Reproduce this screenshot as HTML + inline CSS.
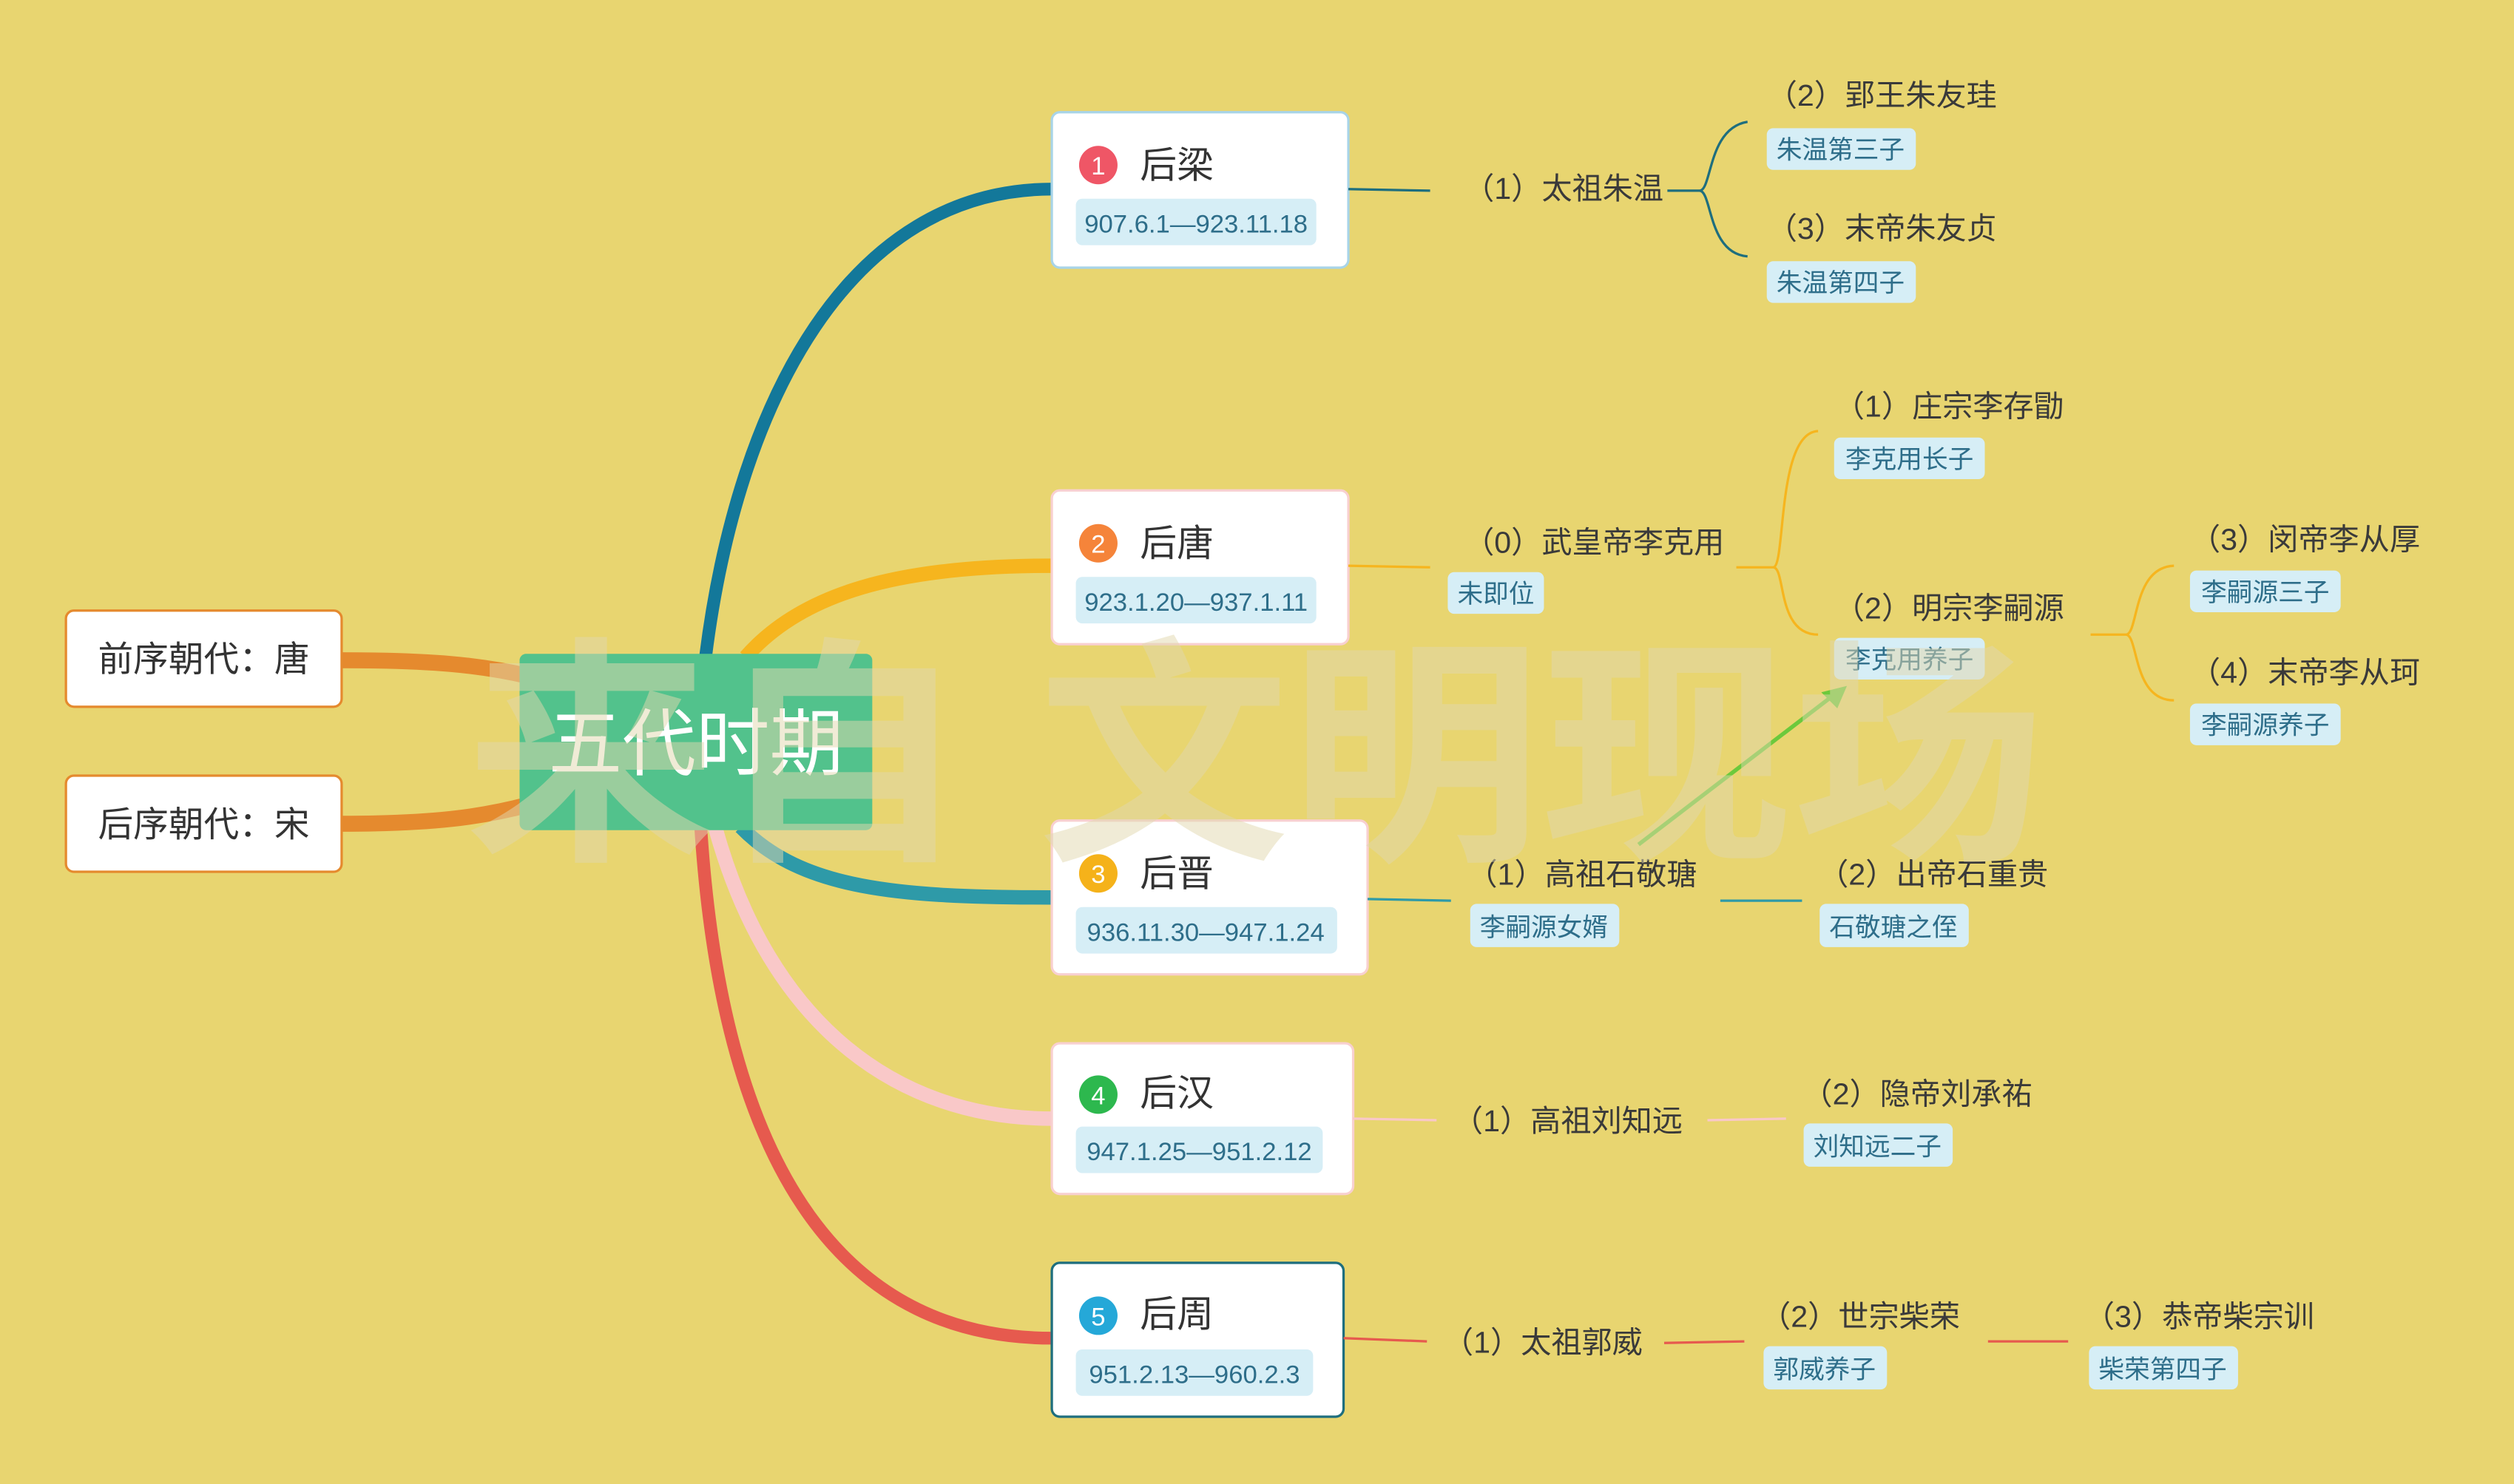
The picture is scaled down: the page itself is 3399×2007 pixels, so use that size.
<!DOCTYPE html>
<html><head><meta charset="utf-8"><style>
html,body{margin:0;padding:0;background:#E8D570;}
svg{display:block;}
text{font-family:"Liberation Sans","Noto Sans CJK SC",sans-serif;}
.t{font-size:19px;fill:#3a3a3a;}
.l{font-size:16px;fill:#2E6E8A;}
.d{font-size:16px;fill:#2E6E8A;}
.h{font-size:23px;fill:#333;}
.n{font-size:16px;fill:#fff;}
</style></head><body>
<svg width="3399" height="2007" viewBox="0 0 1568 926" xmlns="http://www.w3.org/2000/svg">
<rect width="1568" height="926" fill="#E8D570"/>

<path d="M213,412 C270,412 300,415 330,422" stroke="#E58A2E" stroke-width="10" fill="none"/>
<path d="M213,514 C270,514 300,510 330,502" stroke="#E58A2E" stroke-width="10" fill="none"/>
<path d="M440,410 C460,250 530,118 656,118" stroke="#13789A" stroke-width="8" fill="none"/>
<path d="M465,410 C500,370 560,353 656,353" stroke="#F6B51E" stroke-width="9" fill="none"/>
<path d="M462,516 C500,555 560,560 656,560" stroke="#2E9AA8" stroke-width="9" fill="none"/>
<path d="M446,516 C480,640 560,698 656,698" stroke="#F9C8C8" stroke-width="9" fill="none"/>
<path d="M437,516 C450,720 520,835 656,835" stroke="#E65A4E" stroke-width="8" fill="none"/>

<rect x="324" y="408" width="220" height="110" rx="4" fill="#52C28C"/>
<text x="434" y="480" text-anchor="middle" style="font-size:46px;fill:#fff">五代时期</text>

<rect x="41" y="381" width="172" height="60" rx="5" fill="#fff" stroke="#E58A2E" stroke-width="1.5"/>
<text x="127" y="419" text-anchor="middle" class="h" style="font-size:22px">前序朝代：唐</text>
<rect x="41" y="484" width="172" height="60" rx="5" fill="#fff" stroke="#E58A2E" stroke-width="1.5"/>
<text x="127" y="522" text-anchor="middle" class="h" style="font-size:22px">后序朝代：宋</text>

<rect x="656" y="70" width="185" height="97" rx="5" fill="#fff" stroke="#A8D4E8" stroke-width="1.5"/>
<circle cx="685" cy="103" r="12" fill="#EF5666"/><text x="685" y="109" text-anchor="middle" class="n">1</text>
<text x="711" y="111" class="h">后梁</text>
<rect x="671" y="124" width="150" height="29" rx="4" fill="#D6EEF6"/>
<text x="746" y="145" text-anchor="middle" class="d">907.6.1—923.11.18</text>
<rect x="656" y="306" width="185" height="96" rx="5" fill="#fff" stroke="#F8D0D0" stroke-width="1.5"/>
<circle cx="685" cy="339" r="12" fill="#F5843A"/><text x="685" y="345" text-anchor="middle" class="n">2</text>
<text x="711" y="347" class="h">后唐</text>
<rect x="671" y="360" width="150" height="29" rx="4" fill="#D6EEF6"/>
<text x="746" y="381" text-anchor="middle" class="d">923.1.20—937.1.11</text>
<rect x="656" y="512" width="197" height="96" rx="5" fill="#fff" stroke="#F8D0D0" stroke-width="1.5"/>
<circle cx="685" cy="545" r="12" fill="#F5B21A"/><text x="685" y="551" text-anchor="middle" class="n">3</text>
<text x="711" y="553" class="h">后晋</text>
<rect x="671" y="566" width="163" height="29" rx="4" fill="#D6EEF6"/>
<text x="752" y="587" text-anchor="middle" class="d">936.11.30—947.1.24</text>
<rect x="656" y="651" width="188" height="94" rx="5" fill="#fff" stroke="#F8D0D0" stroke-width="1.5"/>
<circle cx="685" cy="683" r="12" fill="#2DB84E"/><text x="685" y="689" text-anchor="middle" class="n">4</text>
<text x="711" y="690" class="h">后汉</text>
<rect x="671" y="703" width="154" height="29" rx="4" fill="#D6EEF6"/>
<text x="748" y="724" text-anchor="middle" class="d">947.1.25—951.2.12</text>
<rect x="656" y="788" width="182" height="96" rx="5" fill="#fff" stroke="#1E6E7E" stroke-width="1.5"/>
<circle cx="685" cy="821" r="12" fill="#25A8D8"/><text x="685" y="827" text-anchor="middle" class="n">5</text>
<text x="711" y="828" class="h">后周</text>
<rect x="671" y="842" width="148" height="29" rx="4" fill="#D6EEF6"/>
<text x="745" y="863" text-anchor="middle" class="d">951.2.13—960.2.3</text>

<path d="M841,118 L892,119" stroke="#1E6E7E" stroke-width="1.5" fill="none"/>
<text x="913" y="124" class="t">（1）太祖朱温</text>
<path d="M1040,119 L1060,119 C1068,119 1065,80 1090,76 M1060,119 C1068,119 1065,158 1090,160" stroke="#1E6E7E" stroke-width="1.5" fill="none"/>
<text x="1102" y="66" class="t">（2）郢王朱友珪</text>
<rect x="1102" y="80" width="93" height="26" rx="4" fill="#D6EEF6"/><text x="1148" y="99" text-anchor="middle" class="l">朱温第三子</text>
<text x="1102" y="149" class="t">（3）末帝朱友贞</text>
<rect x="1102" y="163" width="93" height="26" rx="4" fill="#D6EEF6"/><text x="1148" y="182" text-anchor="middle" class="l">朱温第四子</text>

<path d="M841,353 L892,354" stroke="#F6B51E" stroke-width="1.5" fill="none"/>
<text x="913" y="345" class="t">（0）武皇帝李克用</text>
<rect x="903" y="357" width="60" height="26" rx="4" fill="#D6EEF6"/><text x="933" y="376" text-anchor="middle" class="l">未即位</text>
<path d="M1083,354 L1106,354 C1114,354 1108,270 1134,269 M1106,354 C1114,354 1108,396 1134,396" stroke="#F6B51E" stroke-width="1.5" fill="none"/>
<text x="1144" y="260" class="t">（1）庄宗李存勖</text>
<rect x="1144" y="273" width="94" height="26" rx="4" fill="#D6EEF6"/><text x="1191" y="292" text-anchor="middle" class="l">李克用长子</text>
<text x="1144" y="386" class="t">（2）明宗李嗣源</text>
<rect x="1144" y="398" width="94" height="26" rx="4" fill="#D6EEF6"/><text x="1191" y="417" text-anchor="middle" class="l">李克用养子</text>
<path d="M1304,396 L1326,396 C1334,396 1330,354 1356,353 M1326,396 C1334,396 1330,437 1356,437" stroke="#F6B51E" stroke-width="1.5" fill="none"/>
<text x="1366" y="343" class="t">（3）闵帝李从厚</text>
<rect x="1366" y="356" width="94" height="26" rx="4" fill="#D6EEF6"/><text x="1413" y="375" text-anchor="middle" class="l">李嗣源三子</text>
<text x="1366" y="426" class="t">（4）末帝李从珂</text>
<rect x="1366" y="439" width="94" height="26" rx="4" fill="#D6EEF6"/><text x="1413" y="458" text-anchor="middle" class="l">李嗣源养子</text>

<path d="M853,561 L905,562" stroke="#2E9AA8" stroke-width="1.5" fill="none"/>
<text x="915" y="552" class="t">（1）高祖石敬瑭</text>
<rect x="917" y="564" width="93" height="27" rx="4" fill="#D6EEF6"/><text x="963" y="584" text-anchor="middle" class="l">李嗣源女婿</text>
<path d="M1073,562 L1124,562" stroke="#2E9AA8" stroke-width="1.5" fill="none"/>
<text x="1134" y="552" class="t">（2）出帝石重贵</text>
<rect x="1135" y="564" width="93" height="27" rx="4" fill="#D6EEF6"/><text x="1181" y="584" text-anchor="middle" class="l">石敬瑭之侄</text>
<path d="M1022,527 L1146,432" stroke="#6CC93C" stroke-width="2.5" fill="none"/>
<path d="M1152,428 L1136,432 L1146,442 Z" fill="#6CC93C"/>

<path d="M844,698 L896,699" stroke="#F9C8C8" stroke-width="1.5" fill="none"/>
<text x="906" y="706" class="t">（1）高祖刘知远</text>
<path d="M1065,699 L1114,698" stroke="#F9C8C8" stroke-width="1.5" fill="none"/>
<text x="1124" y="689" class="t">（2）隐帝刘承祐</text>
<rect x="1125" y="701" width="93" height="27" rx="4" fill="#D6EEF6"/><text x="1171" y="721" text-anchor="middle" class="l">刘知远二子</text>

<path d="M838,835 L890,837" stroke="#E65A4E" stroke-width="1.5" fill="none"/>
<text x="900" y="844" class="t">（1）太祖郭威</text>
<path d="M1038,838 L1088,837" stroke="#E65A4E" stroke-width="1.5" fill="none"/>
<text x="1098" y="828" class="t">（2）世宗柴荣</text>
<rect x="1100" y="840" width="77" height="27" rx="4" fill="#D6EEF6"/><text x="1138" y="860" text-anchor="middle" class="l">郭威养子</text>
<path d="M1240,837 L1290,837" stroke="#E65A4E" stroke-width="1.5" fill="none"/>
<text x="1300" y="828" class="t">（3）恭帝柴宗训</text>
<rect x="1303" y="840" width="93" height="27" rx="4" fill="#D6EEF6"/><text x="1349" y="860" text-anchor="middle" class="l">柴荣第四子</text>

<text x="290" y="525" style="font-size:150px;font-weight:bold;fill:#E2D8AE;opacity:0.5" textLength="985" lengthAdjust="spacingAndGlyphs">来自 文明现场</text>
</svg>
</body></html>
